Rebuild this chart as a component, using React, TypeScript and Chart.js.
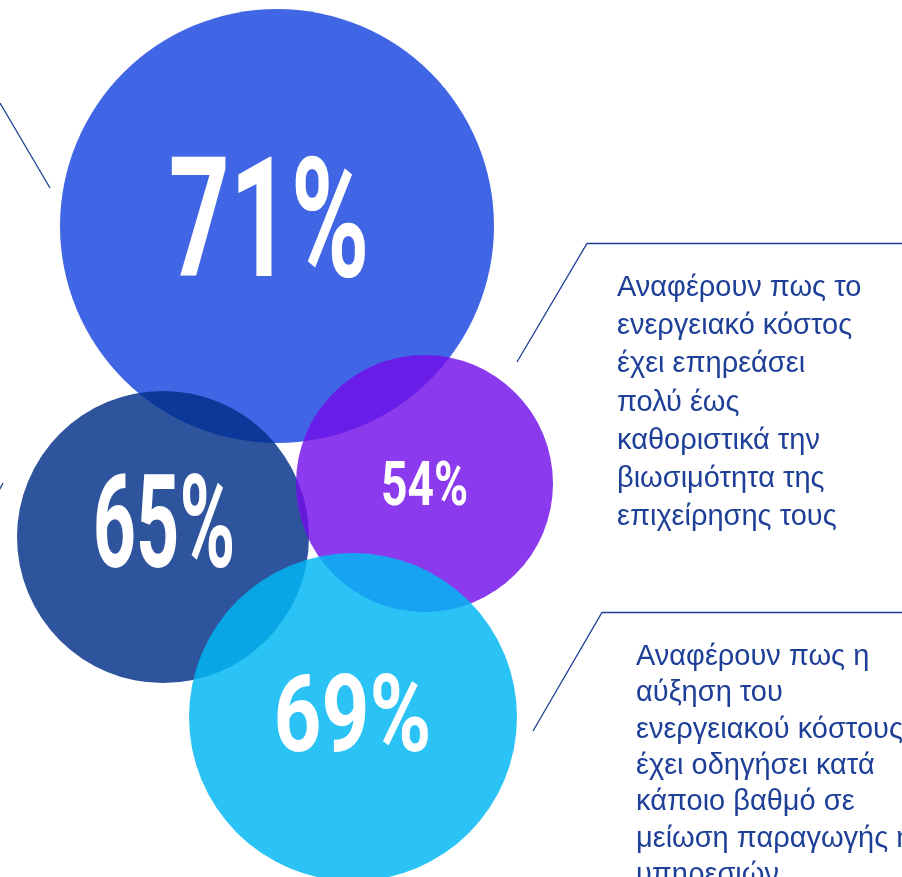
import React, { useEffect, useRef } from "react";
import { Chart, registerables } from "chart.js";

Chart.register(...registerables);

// ---- data ----
const pctValues = [71, 65, 54, 69];
const bubbleX = [277, 163, 424.5, 353];
const bubbleY = [226, 537, 483.5, 717];
const bubbleR = [217, 146, 128.5, 164];

const note1Lines = [
  "Αναφέρουν πως το",
  "ενεργειακό κόστος",
  "έχει επηρεάσει",
  "πολύ έως",
  "καθοριστικά την",
  "βιωσιμότητα της",
  "επιχείρησης τους",
];
const note2Lines = [
  "Αναφέρουν πως η",
  "αύξηση του",
  "ενεργειακού κόστους",
  "έχει οδηγήσει κατά",
  "κάποιο βαθμό σε",
  "μείωση παραγωγής ή",
  "υπηρεσιών",
];

// ---- styles ----
const bubbleColors = [
  "rgba(23,68,223,0.82)",
  "rgba(0,46,137,0.82)",
  "rgba(114,15,233,0.82)",
  "rgba(0,183,243,0.83)",
];
// label box: width, height, offset dx, dy from bubble centre
const labelStyle = [
  { w: 194, h: 122, dx: -8, dy: -9.5 },
  { w: 136, h: 95, dx: 1, dy: -16.5 },
  { w: 83, h: 45, dx: 0, dy: -1 },
  { w: 151, h: 80, dx: -0.5, dy: -5 },
];
const TEXT_COLOR = "#1E3F97";
const W = 902;
const H = 877;

const labelPlugin = {
  id: "pctLabels",
  afterDatasetsDraw(chart: any) {
    const ctx = chart.ctx as CanvasRenderingContext2D;
    const meta = chart.getDatasetMeta(0);
    meta.data.forEach((el: any, i: number) => {
      const st = labelStyle[i];
      const txt = pctValues[i] + "%";
      ctx.save();
      ctx.font = "bold 100px Roboto";
      let m = ctx.measureText(txt);
      const h100 = m.actualBoundingBoxAscent + m.actualBoundingBoxDescent;
      const size = (st.h / h100) * 100;
      ctx.font = `bold ${size}px Roboto`;
      m = ctx.measureText(txt);
      const sx = st.w / (m.actualBoundingBoxLeft + m.actualBoundingBoxRight);
      const cx = el.x + st.dx;
      const cy = el.y + st.dy;
      const base = cy + (m.actualBoundingBoxAscent - m.actualBoundingBoxDescent) / 2;
      ctx.translate(cx, base);
      ctx.scale(sx, 1);
      ctx.fillStyle = "#ffffff";
      ctx.textAlign = "center";
      ctx.textBaseline = "alphabetic";
      ctx.fillText(txt, 0, 0);
      ctx.restore();
    });
  },
};

const notesPlugin = {
  id: "notes",
  afterDraw(chart: any) {
    const ctx = chart.ctx as CanvasRenderingContext2D;
    ctx.save();
    ctx.strokeStyle = TEXT_COLOR;
    ctx.lineWidth = 1.3;
    const seg = (pts: number[][]) => {
      ctx.beginPath();
      ctx.moveTo(pts[0][0], pts[0][1]);
      for (let k = 1; k < pts.length; k++) ctx.lineTo(pts[k][0], pts[k][1]);
      ctx.stroke();
    };
    seg([[0, 103], [50, 188]]);
    seg([[-4, 496], [3, 483]]);
    seg([[517, 362], [587, 243.5], [W + 2, 243.5]]);
    seg([[533, 731], [602, 612.5], [W + 2, 612.5]]);

    ctx.fillStyle = TEXT_COLOR;
    ctx.font = "29px 'Liberation Sans'";
    ctx.textAlign = "left";
    ctx.textBaseline = "middle";
    note1Lines.forEach((t, i) => ctx.fillText(t, 617, 288 + i * 38.2));
    note2Lines.forEach((t, i) => ctx.fillText(t, 636, 657 + i * 36.3));
    ctx.restore();
  },
};

export default function App() {
  const ref = useRef<HTMLCanvasElement>(null);
  useEffect(() => {
    document.body.style.margin = "0";
    document.body.style.overflow = "hidden";
    const data = pctValues.map((_, i) => ({ x: bubbleX[i], y: bubbleY[i], r: bubbleR[i] }));
    const chart = new Chart(ref.current as HTMLCanvasElement, {
      type: "bubble",
      data: {
        datasets: [
          {
            data,
            backgroundColor: bubbleColors,
            borderWidth: 0,
            hoverBorderWidth: 0,
          } as any,
        ],
      },
      options: {
        animation: false,
        responsive: false,
        events: [],
        layout: { padding: 0, autoPadding: false },
        plugins: { legend: { display: false }, tooltip: { enabled: false } },
        scales: {
          x: { type: "linear", min: 0, max: W, display: false },
          y: { type: "linear", min: 0, max: H, reverse: true, display: false },
        },
      },
      plugins: [labelPlugin, notesPlugin],
    });
    return () => chart.destroy();
  }, []);
  return (
    <div style={{ width: W, height: H, background: "#fff" }}>
      <canvas ref={ref} width={W} height={H} style={{ display: "block" }} />
    </div>
  );
}
